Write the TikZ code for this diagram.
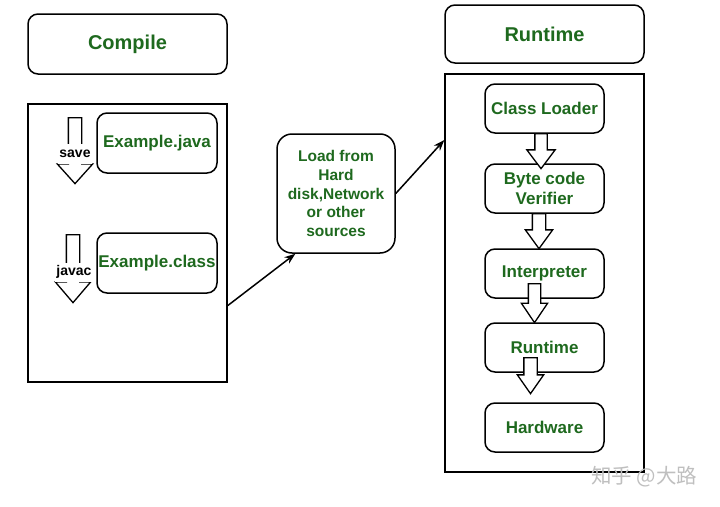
\documentclass[tikz,border=0pt]{standalone}
\usepackage{fontspec}
\setmainfont{Liberation Sans}
\newfontfamily\cjkfont{Noto Sans CJK SC}
\usetikzlibrary{positioning}
\usetikzlibrary{shapes}
\usetikzlibrary{arrows.meta}
\definecolor{jgreen}{RGB}{30,105,30}
\tikzstyle{B} = [rectangle,draw,rounded corners=10pt,line width=1.5pt,inner sep=0pt,align=center,text=jgreen,font=\bfseries\fontsize{17}{20}\selectfont]
\tikzstyle{P} = [rectangle,draw,line width=1.4pt,inner sep=0pt]
\tikzstyle{H} = [single arrow,draw,fill=white,line width=1.3pt,inner sep=6pt,minimum width=1pt,shape border rotate=270,anchor=tail]
\tikzstyle{L} = [fill=white,inner sep=1pt,font=\bfseries\fontsize{14}{16}\selectfont]

\begin{document}
\begin{tikzpicture}[x=1pt,y=-1pt,>={Stealth[length=11pt,width=8pt]}]
	\useasboundingbox (0,0) rectangle (720,506);
	
	%%%%%%%%%%%%%%% compile side
	\node [B,minimum width=199pt,minimum height=60pt,font=\bfseries\fontsize{20}{22}\selectfont] (compile) at(127.5,44) {Compile};
	\node [P,minimum width=199pt,minimum height=278pt] (cbox) at(127.5,243) {};
	\node [B,minimum width=120pt,minimum height=60pt] (java) at(157,143) {Example.java};
	\node [B,minimum width=120pt,minimum height=60pt] (class) at(157,263) {Example.class};
	\node [H,minimum height=66pt,single arrow head extend=11pt,single arrow tip angle=84] (save) at(75,117) {};
	\node [H,minimum height=68pt,single arrow head extend=11pt,single arrow tip angle=81] (jc) at(73,234) {};
	\node [L,minimum height=20pt] (savel) at(75,153.5) {save};
	\node [L,minimum height=19pt] (jcl) at(74,272) {javac};
	%%%%%%%%%%%%%%% loading
	\node [B,rounded corners=15pt,minimum width=118pt,minimum height=119pt,font=\bfseries\fontsize{15.5}{18.7}\selectfont] (load) at(336,193.5) {Load from\\Hard\\disk,Network\\or other\\sources};
	%%%%%%%%%%%%%%% runtime side
	\node [B,minimum width=199pt,minimum height=58pt,font=\bfseries\fontsize{20}{22}\selectfont] (rtitle) at(544.5,34) {Runtime};
	\node [P,minimum width=199pt,minimum height=398pt] (rbox) at(544.5,273) {};
	\node [B,minimum width=119pt,minimum height=49pt] (cl) at(544.5,108.5) {Class Loader};
	\node [B,minimum width=119pt,minimum height=49pt] (bv) at(544.5,188.5) {Byte code\\Verifier};
	\node [B,minimum width=119pt,minimum height=49pt] (ip) at(544.5,273.5) {Interpreter};
	\node [B,minimum width=119pt,minimum height=49pt] (rt) at(544.5,347.5) {Runtime};
	\node [B,minimum width=119pt,minimum height=49pt] (hw) at(544.5,427.5) {Hardware};
	\node [H,inner sep=5.5pt,minimum height=35pt,single arrow head extend=8pt,single arrow tip angle=74] (a1) at(541,133) {};
	\node [H,inner sep=6pt,minimum height=35pt,single arrow head extend=7pt,single arrow tip angle=72] (a2) at(539,213) {};
	\node [H,inner sep=5.5pt,minimum height=39pt,single arrow head extend=7pt,single arrow tip angle=68] (a3) at(534.5,283) {};
	\node [H,inner sep=6pt,minimum height=36pt,single arrow head extend=6.5pt,single arrow tip angle=70] (a4) at(530.5,357) {};
	
	\draw [->,line width=1.5pt] (cbox.-32) -- (load.-124) ;
	\draw [->,line width=1.5pt] (load.east) -- (rbox.127) ;
	
	\node [text=gray!50,font=\cjkfont\fontsize{20.5}{22}\selectfont] (wm) at(644,477) {知乎 @大路};
	
\end{tikzpicture}
\end{document}
